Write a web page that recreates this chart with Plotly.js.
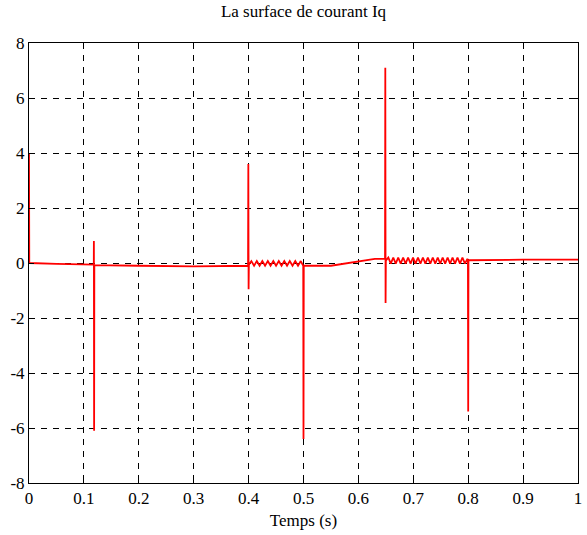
<!DOCTYPE html>
<html>
<head>
<meta charset="utf-8">
<script src="https://cdn.plot.ly/plotly-3.0.1.min.js"></script>
<style>html,body{margin:0;padding:0;background:#fff;}#chart{width:587px;height:535px;}</style>
</head>
<body>
<div id="chart"></div>
<script>
// Time (s) and Iq surface values
var timeS = [
  0, 0.0005, 0.05, 0.1, 0.118, 0.1182, 0.1186, 0.119, 0.2, 0.3, 0.399,
  0.3995, 0.4, 0.4005, 0.401,
  0.405, 0.41, 0.415, 0.42, 0.425, 0.43, 0.435, 0.44, 0.445, 0.45,
  0.455, 0.46, 0.465, 0.47, 0.475, 0.48, 0.485, 0.49, 0.495, 0.499,
  0.4995, 0.5, 0.5005, 0.55, 0.63, 0.6485,
  0.649, 0.6495, 0.65, 0.6505,
  0.6545, 0.659, 0.6635, 0.668, 0.6725, 0.677, 0.6815, 0.686, 0.6905, 0.695,
  0.6995, 0.704, 0.7085, 0.713, 0.7175, 0.722, 0.7265, 0.731, 0.7355, 0.74,
  0.7445, 0.749, 0.7535, 0.758, 0.7625, 0.767, 0.7715, 0.776, 0.7805, 0.785,
  0.7895, 0.794, 0.7985,
  0.7995, 0.8, 0.8005, 0.9, 1.0
];
var iqSurface = [
  4, 0, -0.03, -0.05, -0.06, 0.8, -6.1, -0.08, -0.1, -0.12, -0.1,
  3.6, -0.95, -0.05, -0.05,
  0.07, -0.1, 0.07, -0.1, 0.07, -0.1, 0.07, -0.1, 0.07, -0.1,
  0.07, -0.1, 0.07, -0.1, 0.07, -0.1, 0.07, -0.1, 0.07, -0.05,
  -0.1, -6.4, -0.1, -0.1, 0.15, 0.15,
  7.1, -1.45, 0.1, 0.1,
  0.2, -0.02, 0.2, -0.02, 0.2, -0.02, 0.2, -0.02, 0.2, -0.02,
  0.2, -0.02, 0.2, -0.02, 0.2, -0.02, 0.2, -0.02, 0.2, -0.02,
  0.2, -0.02, 0.2, -0.02, 0.2, -0.02, 0.2, -0.02, 0.2, -0.02,
  0.2, -0.02, 0.15,
  0.1, -5.4, 0.1, 0.12, 0.12
];
var xTicks = [0, 0.1, 0.2, 0.3, 0.4, 0.5, 0.6, 0.7, 0.8, 0.9, 1];
var xTickLabels = ['0', '0.1', '0.2', '0.3', '0.4', '0.5', '0.6', '0.7', '0.8', '0.9', '1'];
var yTicks = [-8, -6, -4, -2, 0, 2, 4, 6, 8];
var yTickLabels = ['-8', '-6', '-4', '-2', '0', '2', '4', '6', '8'];

var font = {family: 'Liberation Serif, Times New Roman, serif', size: 17, color: '#000'};

var trace = {
  x: timeS, y: iqSurface, type: 'scatter', mode: 'lines',
  line: {color: '#ff0000', width: 1.8}, hoverinfo: 'skip'
};

var axisCommon = {
  showline: true, linecolor: '#000', linewidth: 1, mirror: 'ticks',
  ticks: 'inside', ticklen: 5, tickcolor: '#000',
  showgrid: true, gridcolor: '#000', gridwidth: 1, griddash: '6px,6px',
  zeroline: false, tickfont: font
};

var layout = {
  width: 587, height: 535,
  margin: {l: 29, r: 9, t: 43, b: 52},
  paper_bgcolor: '#fff', plot_bgcolor: '#fff',
  showlegend: false,
  font: font,
  title: {text: 'La surface de courant Iq', font: {family: font.family, size: 17, color: '#000'},
          x: 0.5, xref: 'paper', y: 1, yref: 'container', yanchor: 'top', pad: {t: 5}},
  xaxis: Object.assign({}, axisCommon, {
    range: [0, 1], tickvals: xTicks, ticktext: xTickLabels, ticklabelstandoff: 0,
    title: {text: 'Temps (s)', font: font, standoff: 6}
  }),
  yaxis: Object.assign({}, axisCommon, {
    range: [-8, 8], tickvals: yTicks, ticktext: yTickLabels, ticklabelstandoff: 0
  })
};

Plotly.newPlot('chart', [trace], layout, {displayModeBar: false, staticPlot: true});
</script>
</body>
</html>
